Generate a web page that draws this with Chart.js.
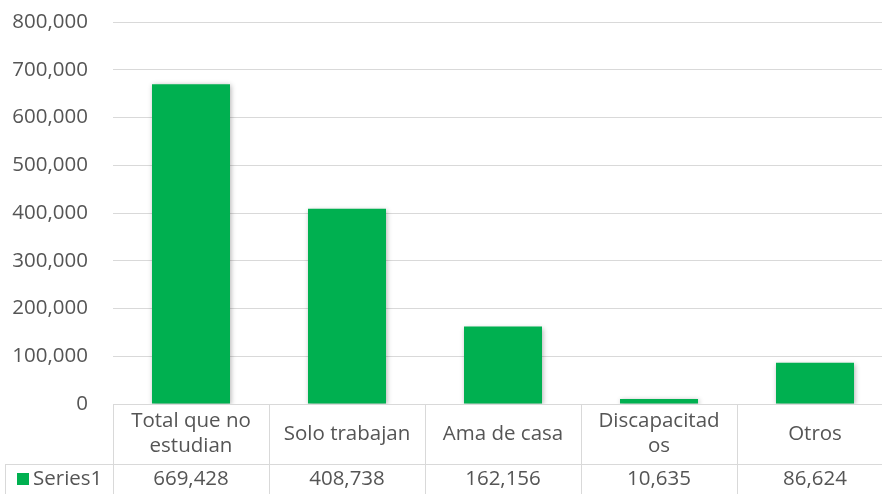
<!DOCTYPE html>
<html>
<head>
<meta charset="utf-8">
<script src="https://cdn.jsdelivr.net/npm/chart.js@4/dist/chart.umd.min.js"></script>
<style>
    html, body { margin: 0; padding: 0; background: #fff; overflow: hidden; }
    #wrap { width: 900px; height: 494px; }
</style>
</head>
<body>
<div id="wrap"><canvas id="chart"></canvas></div>
<script>
const categories = [["Total que no", "estudian"], ["Solo trabajan"], ["Ama de casa"], ["Discapacitad", "os"], ["Otros"]];
const seriesName = "Series1";
const values = [669428, 408738, 162156, 10635, 86624];
const yTicks = [0, 100000, 200000, 300000, 400000, 500000, 600000, 700000, 800000];

const textColor = '#555555';
const lineColor = '#d9d9d9';
const barColor = '#00b050';
const fontFamily = '"Open Sans", sans-serif';
const fontSize = 20.5;

function fmt(v) {
    return v.toLocaleString('en-US');
}

// data table under the plot, like Excel's
const dataTable = {
    id: 'dataTable',
    afterDraw(chart) {
        const ctx = chart.ctx;
        const x = chart.scales.x;
        const area = chart.chartArea;
        const top = area.bottom;
        const mid = top + 60;
        const bottom = chart.height;
        const step = x.getPixelForValue(1) - x.getPixelForValue(0);
        ctx.save();
        ctx.strokeStyle = lineColor;
        ctx.lineWidth = 1;
        ctx.beginPath();
        ctx.moveTo(area.left, top + 0.5);
        ctx.lineTo(area.right, top + 0.5);
        ctx.moveTo(5, mid + 0.5);
        ctx.lineTo(area.right, mid + 0.5);
        ctx.moveTo(5.5, mid);
        ctx.lineTo(5.5, bottom);
        for (let i = 0; i <= categories.length; i++) {
            const px = Math.round(x.getPixelForValue(i) - step / 2) + 0.5;
            ctx.moveTo(px, top);
            ctx.lineTo(px, bottom);
        }
        ctx.stroke();

        ctx.fillStyle = textColor;
        ctx.font = fontSize + 'px ' + fontFamily;
        ctx.textAlign = 'center';
        ctx.textBaseline = 'middle';
        categories.forEach((lines, i) => {
            const cx = x.getPixelForValue(i);
            const start = top + 30 - (lines.length - 1) * 12.5;
            lines.forEach((t, j) => ctx.fillText(t, cx, start + j * 25));
            ctx.fillText(fmt(values[i]), cx, mid + 15);
        });
        ctx.fillStyle = barColor;
        ctx.fillRect(17, mid + 9, 12, 12);
        ctx.fillStyle = textColor;
        ctx.textAlign = 'left';
        ctx.fillText(seriesName, 33, mid + 15);
        ctx.restore();
    }
};

const barShadow = {
    id: 'barShadow',
    beforeDatasetsDraw(chart) {
        const ctx = chart.ctx;
        ctx.save();
        ctx.shadowColor = 'rgba(0,0,0,0.3)';
        ctx.shadowBlur = 5;
        ctx.shadowOffsetX = 1;
        ctx.shadowOffsetY = 1;
    },
    afterDatasetsDraw(chart) {
        chart.ctx.restore();
    }
};

new Chart("chart", {
    type: 'bar',
    data: {
        labels: categories,
        datasets: [{
            label: seriesName,
            data: values,
            backgroundColor: barColor,
            barPercentage: 1,
            categoryPercentage: 0.5
        }]
    },
    options: {
        responsive: true,
        maintainAspectRatio: false,
        animation: false,
        layout: { padding: { top: 22, right: 7, bottom: 90, left: 0 } },
        plugins: {
            legend: { display: false },
            tooltip: { enabled: false }
        },
        scales: {
            x: {
                display: false
            },
            y: {
                min: 0,
                max: 800000,
                afterBuildTicks: axis => { axis.ticks = yTicks.map(v => ({ value: v })); },
                afterFit: axis => {
                    axis.width = 113;
                    axis.paddingTop = 0;
                    axis.paddingBottom = 0;
                },
                border: { display: false },
                grid: { color: lineColor, drawTicks: false },
                ticks: {
                    padding: 25,
                    color: textColor,
                    font: { family: fontFamily, size: fontSize },
                    callback: v => fmt(v)
                }
            }
        }
    },
    plugins: [barShadow, dataTable]
});
</script>
</body>
</html>
